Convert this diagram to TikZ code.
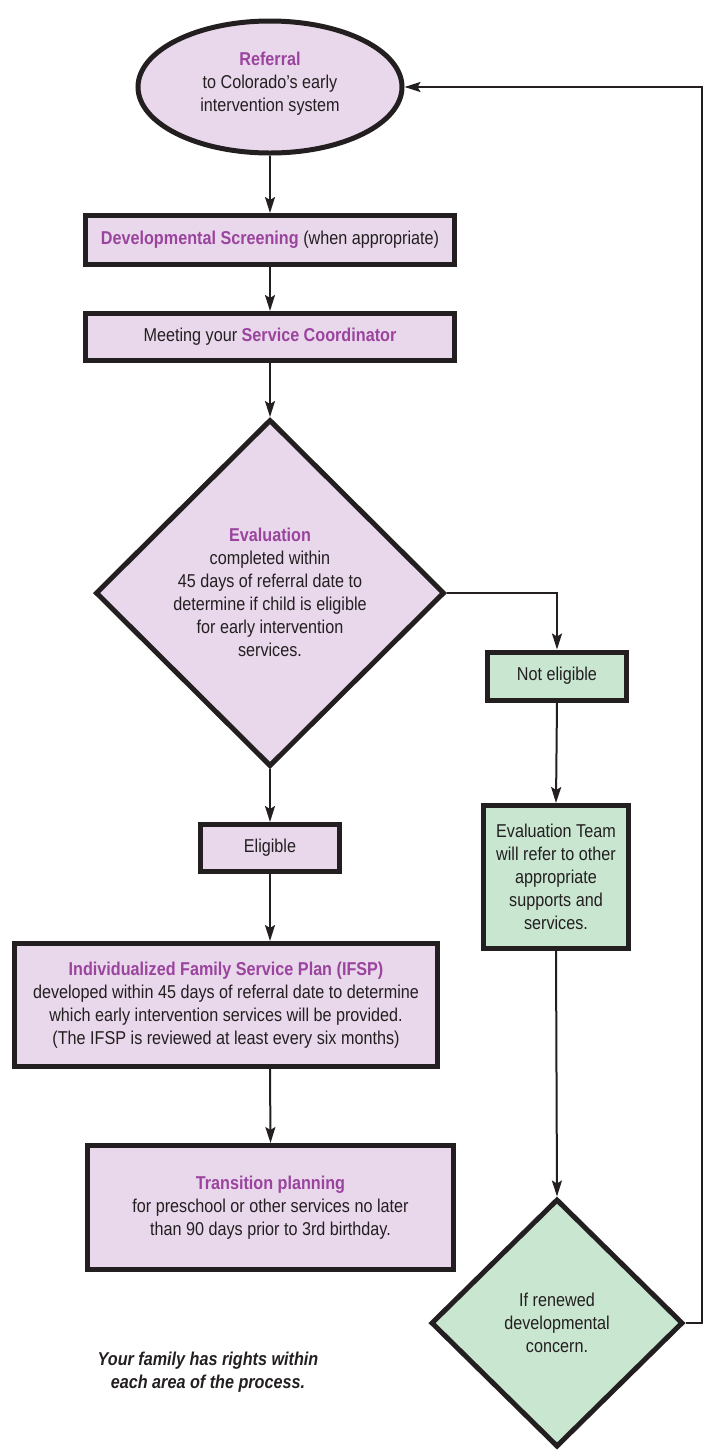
\documentclass[tikz,border=0pt]{standalone}
\usepackage{fontspec}
\setmainfont{Liberation Sans}[FakeStretch=0.87]
\usetikzlibrary{shapes.geometric,arrows.meta}
\definecolor{pfill}{HTML}{E9D8EB}
\definecolor{ptext}{HTML}{9A449E}
\definecolor{gfill}{HTML}{C9E6D1}
\definecolor{ink}{HTML}{231F20}
\tikzset{
  box/.style={draw=ink,line width=5pt,rectangle,inner sep=0pt,align=center,text=ink,
    font=\fontsize{18.6}{23}\selectfont},
  pbox/.style={box,fill=pfill},
  gbox/.style={box,fill=gfill},
  lbl/.style={align=center,text=ink,inner sep=0pt,font=\fontsize{18.6}{23}\selectfont},
  conn/.style={draw=ink,line width=2pt,-{Stealth[length=16pt,width=10pt,inset=3pt]}}
}
\newcommand{\hi}[1]{{\color{ptext}\bfseries #1}}
\begin{document}
\begin{tikzpicture}[x=1pt,y=-1pt]
\useasboundingbox (0,0) rectangle (708,1452);
% nodes
\node[pbox,ellipse,minimum width=264,minimum height=132] (ref) at (270,87) {};
\node[lbl] (reft) at (270,84) {\hi{Referral}\\to Colorado’s early\\intervention system};
\node[pbox,minimum width=369,minimum height=49] (dev) at (270,240) {\hi{Developmental Screening} (when appropriate)};
\node[pbox,minimum width=369,minimum height=47] (meet) at (270,337) {Meeting your \hi{Service Coordinator}};
\node[pbox,diamond,minimum width=349,minimum height=347] (eval) at (270,593) {};
\node[lbl] (evalt) at (270,592) {\hi{Evaluation}\\completed within\\45 days of referral date to\\determine if child is eligible\\for early intervention\\services.};
\node[gbox,minimum width=139,minimum height=48] (ne) at (557,676) {Not eligible};
\node[pbox,minimum width=139,minimum height=47] (elig) at (270,848) {Eligible};
\node[gbox,minimum width=145,minimum height=143] (team) at (556,877) {Evaluation Team\\will refer to other\\appropriate\\supports and\\services.};
\node[pbox,minimum width=423,minimum height=123] (ifsp) at (226,1005) {\hi{Individualized Family Service Plan (IFSP)}\\developed within 45 days of referral date to determine\\which early intervention services will be provided.\\(The IFSP is reviewed at least every six months)};
\node[pbox,minimum width=366,minimum height=124] (trans) at (270.5,1207.5) {\hi{Transition planning}\\for preschool or other services no later\\than 90 days prior to 3rd birthday.};
\node[gbox,diamond,minimum width=252,minimum height=248] (conc) at (557,1323) {};
\node[lbl] (conct) at (557,1323) {If renewed\\developmental\\concern.};
\node[lbl,font=\fontsize{18.6}{23}\selectfont\bfseries\itshape] (note) at (208,1372) {Your family has rights within\\each area of the process.};
\coordinate (loop) at (702,1323);
% connectors
\draw[conn] (ref.south) -- (dev.north);
\draw[conn] (dev.south) -- (meet.north);
\draw[conn] (meet.south) -- (eval.north);
\draw[conn] (eval.east) -| (ne.north);
\draw[conn] (eval.south) -- (elig.north);
\draw[conn] (ne.south) -- (team.north);
\draw[conn] (team.south) -- (conc.north);
\draw[conn] (elig.south) -- (elig.south |- ifsp.north);
\draw[conn] (elig.south |- ifsp.south) -- (trans.north);
\draw[conn] (conc.east) -- (loop) |- (ref.east);
\end{tikzpicture}
\end{document}
